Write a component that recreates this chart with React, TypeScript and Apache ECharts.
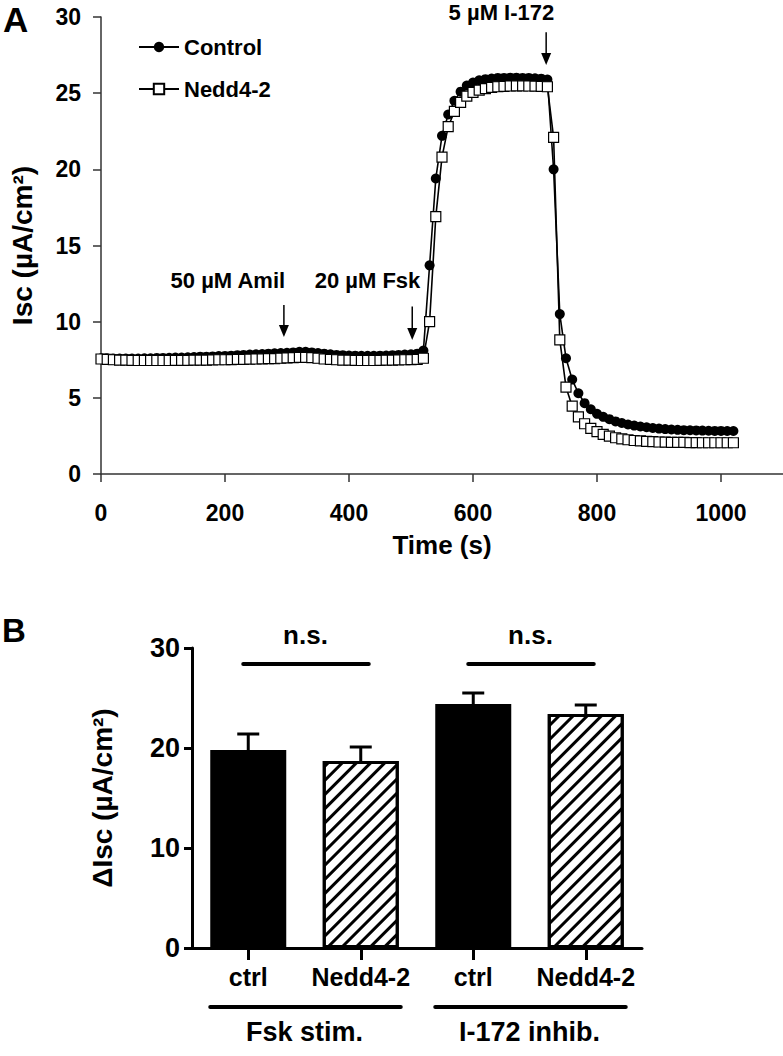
import React, { useEffect, useRef } from "react";
import * as echarts from "echarts";

// ---------- Panel A data (Isc traces, sampled every 10 s) ----------
const TIME_S = [
  0, 10, 20, 30, 40, 50, 60, 70, 80, 90,
  100, 110, 120, 130, 140, 150, 160, 170, 180, 190,
  200, 210, 220, 230, 240, 250, 260, 270, 280, 290,
  300, 310, 320, 330, 340, 350, 360, 370, 380, 390,
  400, 410, 420, 430, 440, 450, 460, 470, 480, 490,
  500, 510, 520, 530, 540, 550, 560, 570, 580, 590,
  600, 610, 620, 630, 640, 650, 660, 670, 680, 690,
  700, 710, 720, 730, 740, 750, 760, 770, 780, 790,
  800, 810, 820, 830, 840, 850, 860, 870, 880, 890,
  900, 910, 920, 930, 940, 950, 960, 970, 980, 990,
  1000, 1010, 1020,
];
const CONTROL_ISC = [
  7.6, 7.6, 7.58, 7.58, 7.58, 7.58, 7.58, 7.6, 7.6, 7.62,
  7.62, 7.63, 7.64, 7.65, 7.66, 7.68, 7.7, 7.7, 7.72, 7.74,
  7.75, 7.77, 7.8, 7.82, 7.84, 7.86, 7.88, 7.9, 7.92, 7.94,
  7.96, 7.98, 8.02, 8.02, 7.98, 7.94, 7.9, 7.86, 7.82, 7.8,
  7.78, 7.77, 7.76, 7.76, 7.76, 7.77, 7.78, 7.8, 7.82, 7.84,
  7.86, 7.9, 8.1, 13.7, 19.4, 22.2, 23.6, 24.5, 25.1, 25.5,
  25.7, 25.85, 25.92, 25.96, 26.0, 26.0, 26.02, 26.02, 26.0, 26.0,
  25.98, 25.95, 25.9, 20.0, 10.5, 7.6, 6.2, 5.3, 4.65, 4.25,
  3.95, 3.75, 3.6, 3.45, 3.35, 3.25, 3.18, 3.12, 3.07, 3.02,
  2.98, 2.95, 2.92, 2.9, 2.88, 2.87, 2.86, 2.85, 2.84, 2.83,
  2.83, 2.82, 2.82,
];
const NEDD_ISC = [
  7.55, 7.52, 7.5, 7.48, 7.47, 7.46, 7.45, 7.45, 7.45, 7.45,
  7.45, 7.45, 7.46, 7.46, 7.46, 7.47, 7.48, 7.48, 7.49, 7.5,
  7.5, 7.51, 7.52, 7.53, 7.54, 7.55, 7.56, 7.57, 7.58, 7.6,
  7.62, 7.64, 7.66, 7.66, 7.64, 7.6, 7.55, 7.52, 7.5, 7.48,
  7.47, 7.46, 7.45, 7.45, 7.45, 7.46, 7.47, 7.48, 7.49, 7.5,
  7.51, 7.53, 7.6, 10.0, 16.9, 20.8, 22.8, 23.8, 24.4, 24.8,
  25.05, 25.2, 25.3, 25.38, 25.42, 25.45, 25.47, 25.48, 25.48, 25.47,
  25.46, 25.45, 25.42, 22.1, 8.8, 5.7, 4.45, 3.75, 3.3, 3.0,
  2.78, 2.6, 2.48, 2.38, 2.3, 2.25, 2.2, 2.17, 2.14, 2.12,
  2.1, 2.09, 2.08, 2.07, 2.07, 2.06, 2.06, 2.05, 2.05, 2.05,
  2.05, 2.05, 2.05,
];
const SERIES_NAMES = ["Control", "Nedd4-2"];
const X_TICKS_A = [0, 200, 400, 600, 800, 1000];

// drug additions: arrow time, arrow top / tip level, label right-end time and level
const EVENT_LABELS = ["50 µM Amil", "20 µM Fsk", "5 µM I-172"];
const EVENT_T = [295, 502, 718];
const EVENT_ARROW_TOP = [11.1, 11.0, 29.0];
const EVENT_ARROW_TIP = [9.0, 8.8, 26.85];
const EVENT_LABEL_END_T = [297, 515, 731];
const EVENT_LABEL_Y = [12.7, 12.7, 30.3];

// ---------- Panel B data ----------
const BAR_CATS = ["ctrl", "Nedd4-2", "ctrl", "Nedd4-2"];
const BAR_MEANS = [19.8, 18.7, 24.4, 23.4];
const BAR_ERR_TOP = [21.4, 20.1, 25.5, 24.3];
const GROUP_LABELS = ["Fsk stim.", "I-172 inhib."];
const GROUP_SPANS = [[0, 1], [2, 3]];
const NS_LEVEL = 28.4;

const BOLD = "'Liberation Sans', Arial, Helvetica, sans-serif";

export default function App() {
  const ref = useRef<HTMLDivElement>(null);

  useEffect(() => {
    if (!ref.current) return;
    const chart = echarts.init(ref.current, undefined, { renderer: "svg" });

    const hatch = {
      symbol: "rect",
      symbolSize: 1,
      color: "#000",
      backgroundColor: "#fff",
      dashArrayX: [1, 0],
      dashArrayY: [2.2, 6.3],
      rotation: -Math.PI / 4,
    };

    const option: any = {
      animation: false,
      legend: {
        data: SERIES_NAMES,
        orient: "vertical",
        left: 133,
        top: 31,
        itemWidth: 40,
        itemHeight: 13,
        itemGap: 20,
        textStyle: { fontFamily: BOLD, fontWeight: "bold", fontSize: 22, color: "#000" },
      },
      grid: [
        { left: 97, top: 17, width: 686, height: 457 },
        { left: 192, top: 648, width: 450, height: 300 },
      ],
      xAxis: [
        {
          type: "value",
          gridIndex: 0,
          min: 0,
          max: 1100,
          interval: 200,
          axisLine: { show: true, lineStyle: { color: "#333", width: 1.5 } },
          axisTick: { show: true, length: 8, customValues: X_TICKS_A, lineStyle: { color: "#333", width: 1.5 } },
          axisLabel: {
            customValues: X_TICKS_A,
            formatter: (v: number) => String(v),
            color: "#000",
            fontFamily: BOLD,
            fontWeight: "bold",
            fontSize: 23,
            margin: 27,
          },
          splitLine: { show: false },
          name: "Time (s)",
          nameLocation: "middle",
          nameGap: 58,
          nameTextStyle: { fontFamily: BOLD, fontWeight: "bold", fontSize: 26, color: "#000" },
        },
        {
          type: "category",
          gridIndex: 1,
          data: BAR_CATS,
          axisLine: { show: true, lineStyle: { color: "#000", width: 3 } },
          axisTick: { show: true, alignWithLabel: true, length: 12, lineStyle: { color: "#000", width: 3 } },
          axisLabel: { color: "#000", fontFamily: BOLD, fontWeight: "bold", fontSize: 25, margin: 16, interval: 0 },
          splitLine: { show: false },
        },
      ],
      yAxis: [
        {
          type: "value",
          gridIndex: 0,
          min: 0,
          max: 30,
          interval: 5,
          axisLine: { show: true, lineStyle: { color: "#333", width: 1.5 } },
          axisTick: { show: true, length: 8, lineStyle: { color: "#333", width: 1.5 } },
          axisLabel: { color: "#000", fontFamily: BOLD, fontWeight: "bold", fontSize: 23, margin: 20 },
          splitLine: { show: false },
          name: "Isc (µA/cm²)",
          nameLocation: "middle",
          nameRotate: 90,
          nameGap: 65,
          nameTextStyle: { fontFamily: BOLD, fontWeight: "bold", fontSize: 28, color: "#000" },
        },
        {
          type: "value",
          gridIndex: 1,
          min: 0,
          max: 30,
          interval: 10,
          axisLine: { show: true, lineStyle: { color: "#000", width: 3 } },
          axisTick: { show: true, length: 8, lineStyle: { color: "#000", width: 3 } },
          axisLabel: { color: "#000", fontFamily: BOLD, fontWeight: "bold", fontSize: 27, margin: 12 },
          splitLine: { show: false },
          name: "ΔIsc (µA/cm²)",
          nameLocation: "middle",
          nameRotate: 90,
          nameGap: 76,
          nameTextStyle: { fontFamily: BOLD, fontWeight: "bold", fontSize: 28, color: "#000" },
        },
      ],
      series: [
        {
          name: SERIES_NAMES[0],
          type: "line",
          xAxisIndex: 0,
          yAxisIndex: 0,
          data: TIME_S.map((t, i) => [t, CONTROL_ISC[i]]),
          symbol: "circle",
          symbolSize: 10,
          itemStyle: { color: "#000" },
          lineStyle: { color: "#000", width: 1.6 },
          z: 2,
        },
        {
          name: SERIES_NAMES[1],
          type: "line",
          xAxisIndex: 0,
          yAxisIndex: 0,
          data: TIME_S.map((t, i) => [t, NEDD_ISC[i]]),
          symbol: "rect",
          symbolSize: 10,
          itemStyle: { color: "#fff", borderColor: "#000", borderWidth: 1.2 },
          lineStyle: { color: "#000", width: 1.6 },
          z: 3,
        },
        {
          type: "bar",
          xAxisIndex: 1,
          yAxisIndex: 1,
          barWidth: 76,
          data: BAR_MEANS.map((v, i) => ({
            value: v,
            itemStyle:
              i % 2 === 0
                ? { color: "#000", borderColor: "#000", borderWidth: 3 }
                : { color: "#fff", borderColor: "#000", borderWidth: 3, decal: hatch },
          })),
        },
        {
          type: "custom",
          xAxisIndex: 1,
          yAxisIndex: 1,
          z: 5,
          data: BAR_MEANS.map((m, i) => [i, m, BAR_ERR_TOP[i]]),
          encode: { x: 0, y: 2 },
          renderItem: (params: any, api: any) => {
            const base = api.coord([api.value(0), api.value(1)]);
            const top = api.coord([api.value(0), api.value(2)]);
            return {
              type: "group",
              children: [
                { type: "line", shape: { x1: base[0], y1: base[1], x2: top[0], y2: top[1] }, style: { stroke: "#000", lineWidth: 3 } },
                { type: "line", shape: { x1: top[0] - 11, y1: top[1], x2: top[0] + 11, y2: top[1] }, style: { stroke: "#000", lineWidth: 3 } },
              ],
            };
          },
        },
        {
          type: "custom",
          xAxisIndex: 1,
          yAxisIndex: 1,
          z: 5,
          clip: false,
          data: GROUP_SPANS.map(([a, b]) => [a, b, NS_LEVEL]),
          encode: { x: 0, y: 2 },
          renderItem: (params: any, api: any) => {
            const p0 = api.coord([api.value(0), api.value(2)]);
            const p1 = api.coord([api.value(1), api.value(2)]);
            return {
              type: "group",
              children: [
                { type: "line", shape: { x1: p0[0] - 5, y1: p0[1], x2: p1[0] + 8, y2: p1[1] }, style: { stroke: "#000", lineWidth: 4, lineCap: "round" } },
                {
                  type: "text",
                  x: (p0[0] + p1[0]) / 2 + 1,
                  y: p0[1] - 29,
                  style: { text: "n.s.", fill: "#000", font: `bold 26px ${BOLD}`, textAlign: "center", textVerticalAlign: "middle" },
                },
              ],
            };
          },
        },
        {
          type: "custom",
          xAxisIndex: 1,
          yAxisIndex: 1,
          z: 5,
          clip: false,
          data: GROUP_SPANS.map(([a, b]) => [a, b, 0]),
          encode: { x: 0, y: 2 },
          renderItem: (params: any, api: any) => {
            const p0 = api.coord([api.value(0), api.value(2)]);
            const p1 = api.coord([api.value(1), api.value(2)]);
            return {
              type: "group",
              children: [
                { type: "line", shape: { x1: p0[0] - 38, y1: p0[1] + 59, x2: p1[0] + 40, y2: p1[1] + 59 }, style: { stroke: "#000", lineWidth: 4, lineCap: "round" } },
                {
                  type: "text",
                  x: (p0[0] + p1[0]) / 2,
                  y: p0[1] + 84,
                  style: { text: GROUP_LABELS[params.dataIndex], fill: "#000", font: `bold 27px ${BOLD}`, textAlign: "center", textVerticalAlign: "middle" },
                },
              ],
            };
          },
        },
      ],
    };

    chart.setOption(option);

    // drug-addition arrows & labels positioned through the panel-A scales
    const graphics: any[] = [
      { type: "text", left: 3, top: 2, style: { text: "A", fill: "#000", font: `bold 35px ${BOLD}` } },
      { type: "text", left: 2, top: 614, style: { text: "B", fill: "#000", font: `bold 33px ${BOLD}` } },
    ];
    EVENT_T.forEach((t, i) => {
      const top = chart.convertToPixel({ gridIndex: 0 }, [t, EVENT_ARROW_TOP[i]]) as number[];
      const tip = chart.convertToPixel({ gridIndex: 0 }, [t, EVENT_ARROW_TIP[i]]) as number[];
      const lab = chart.convertToPixel({ gridIndex: 0 }, [EVENT_LABEL_END_T[i], EVENT_LABEL_Y[i]]) as number[];
      graphics.push(
        { type: "line", shape: { x1: top[0], y1: top[1], x2: tip[0], y2: tip[1] - 10 }, style: { stroke: "#000", lineWidth: 1.5 } },
        { type: "polygon", shape: { points: [[tip[0] - 5, tip[1] - 12], [tip[0] + 5, tip[1] - 12], [tip[0], tip[1]]] }, style: { fill: "#000" } },
        {
          type: "text",
          x: lab[0],
          y: lab[1],
          style: { text: EVENT_LABELS[i], fill: "#000", font: `bold 22px ${BOLD}`, textAlign: "right", textVerticalAlign: "middle" },
        }
      );
    });
    chart.setOption({ graphic: graphics });

    return () => chart.dispose();
  }, []);

  return <div ref={ref} style={{ position: "absolute", left: 0, top: 0, width: 783, height: 1056, background: "#fff" }} />;
}
